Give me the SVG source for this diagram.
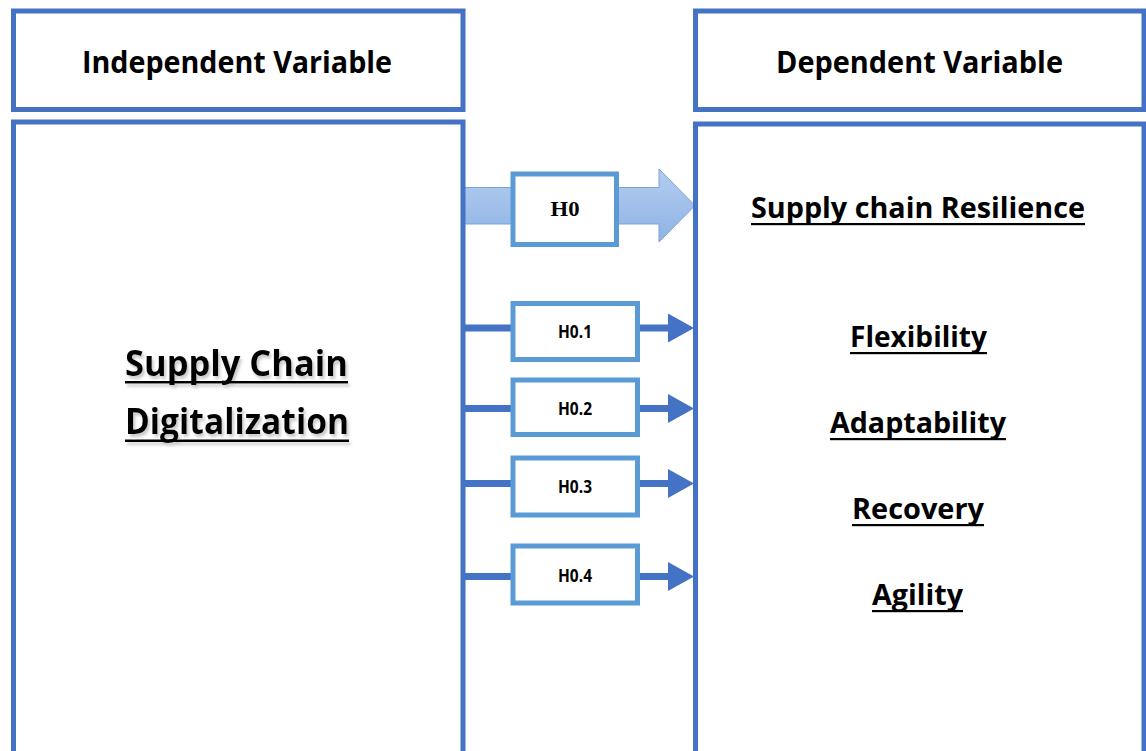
<svg xmlns="http://www.w3.org/2000/svg" width="1146" height="751" viewBox="0 0 1146 751">
<defs>
<style>
.frame{fill:#fff;stroke:#4472C4;stroke-width:5}
.hbox{fill:#fff;stroke:#5B9BD5;stroke-width:5}
.title{font-family:"Open Sans","Liberation Sans",sans-serif;font-weight:700;fill:#000;text-anchor:middle}
.hlabel{font-family:"Open Sans","Liberation Sans",sans-serif;font-weight:700;font-size:17px;fill:#000;text-anchor:middle}
.conn{stroke:#4472C4;stroke-width:7;fill:none}
.head{fill:#4472C4}
.ul{fill:#000}
</style>
<linearGradient id="bigArrow" x1="0" y1="0" x2="0" y2="1">
<stop offset="0" stop-color="#b3cdef"/>
<stop offset="1" stop-color="#8fb3e5"/>
</linearGradient>
<filter id="shadow" x="-10%" y="-20%" width="120%" height="150%">
<feDropShadow dx="2" dy="3" stdDeviation="1.5" flood-color="#888" flood-opacity="0.45"/>
</filter>
</defs>
<rect width="1146" height="751" fill="#fff"/>

<g id="connectors">
<polygon points="463,187.5 659,187.5 659,169 695,205.5 659,242 659,224 463,224" fill="url(#bigArrow)" stroke="#7aa3dc" stroke-width="1"/>
<line class="conn" x1="463" y1="328" x2="513" y2="328"/>
<line class="conn" x1="637" y1="328" x2="670" y2="328"/>
<polygon class="head" points="668,313.5 694,328 668,342.5"/>
<line class="conn" x1="463" y1="408.5" x2="513" y2="408.5"/>
<line class="conn" x1="637" y1="408.5" x2="670" y2="408.5"/>
<polygon class="head" points="668,394 694,408.5 668,423"/>
<line class="conn" x1="463" y1="483.5" x2="513" y2="483.5"/>
<line class="conn" x1="637" y1="483.5" x2="670" y2="483.5"/>
<polygon class="head" points="668,469 694,483.5 668,498"/>
<line class="conn" x1="463" y1="576.5" x2="513" y2="576.5"/>
<line class="conn" x1="637" y1="576.5" x2="670" y2="576.5"/>
<polygon class="head" points="668,562 694,576.5 668,591"/>
</g>

<g id="independent-header">
<rect class="frame" x="13.5" y="11" width="449.5" height="98.5"/>
<text class="title" x="237" y="73" font-size="30" textLength="310" lengthAdjust="spacingAndGlyphs">Independent Variable</text>
</g>

<g id="independent-body">
<rect class="frame" x="13.5" y="122" width="449.5" height="650"/>
<g filter="url(#shadow)">
<text class="title" x="236.5" y="376" font-size="36" textLength="223" lengthAdjust="spacingAndGlyphs">Supply Chain</text>
<rect class="ul" x="125" y="381" width="223" height="2.5"/>
<text class="title" x="237" y="434" font-size="36" textLength="224" lengthAdjust="spacingAndGlyphs">Digitalization</text>
<rect class="ul" x="125" y="439.5" width="224" height="2.5"/>
</g>
</g>

<g id="dependent-header">
<rect class="frame" x="695.5" y="11" width="448.5" height="98.5"/>
<text class="title" x="919.5" y="73" font-size="30" textLength="287" lengthAdjust="spacingAndGlyphs">Dependent Variable</text>
</g>

<g id="dependent-body">
<rect class="frame" x="695.5" y="124" width="448.5" height="650"/>
<text class="title" x="918" y="218" font-size="29" textLength="334" lengthAdjust="spacingAndGlyphs">Supply chain Resilience</text>
<rect class="ul" x="751" y="223" width="334" height="2.2"/>
<text class="title" x="918.5" y="347" font-size="29" textLength="137" lengthAdjust="spacingAndGlyphs">Flexibility</text>
<rect class="ul" x="850" y="352" width="137" height="2.2"/>
<text class="title" x="918" y="433" font-size="29" textLength="176" lengthAdjust="spacingAndGlyphs">Adaptability</text>
<rect class="ul" x="830" y="438" width="176" height="2.2"/>
<text class="title" x="918" y="519" font-size="29" textLength="132" lengthAdjust="spacingAndGlyphs">Recovery</text>
<rect class="ul" x="852" y="524" width="132" height="2.2"/>
<text class="title" x="917.5" y="605" font-size="29" textLength="91" lengthAdjust="spacingAndGlyphs">Agility</text>
<rect class="ul" x="872" y="610" width="91" height="2.2"/>
</g>

<g id="h0">
<rect class="hbox" x="513" y="174" width="103.5" height="70.5"/>
<text x="565" y="216" font-family="'Liberation Serif','Times New Roman',serif" font-weight="700" font-size="20" text-anchor="middle" textLength="29" lengthAdjust="spacingAndGlyphs">H0</text>
</g>

<g id="h01">
<rect class="hbox" x="513" y="303.5" width="124.5" height="56"/>
<text class="hlabel" x="575" y="338" textLength="34" lengthAdjust="spacingAndGlyphs">H0.1</text>
</g>

<g id="h02">
<rect class="hbox" x="513" y="380" width="124.5" height="54.5"/>
<text class="hlabel" x="575" y="415" textLength="34" lengthAdjust="spacingAndGlyphs">H0.2</text>
</g>

<g id="h03">
<rect class="hbox" x="513" y="458" width="124.5" height="57"/>
<text class="hlabel" x="575" y="493" textLength="34" lengthAdjust="spacingAndGlyphs">H0.3</text>
</g>

<g id="h04">
<rect class="hbox" x="513" y="546" width="124.5" height="57"/>
<text class="hlabel" x="575" y="581.5" textLength="34" lengthAdjust="spacingAndGlyphs">H0.4</text>
</g>
</svg>
